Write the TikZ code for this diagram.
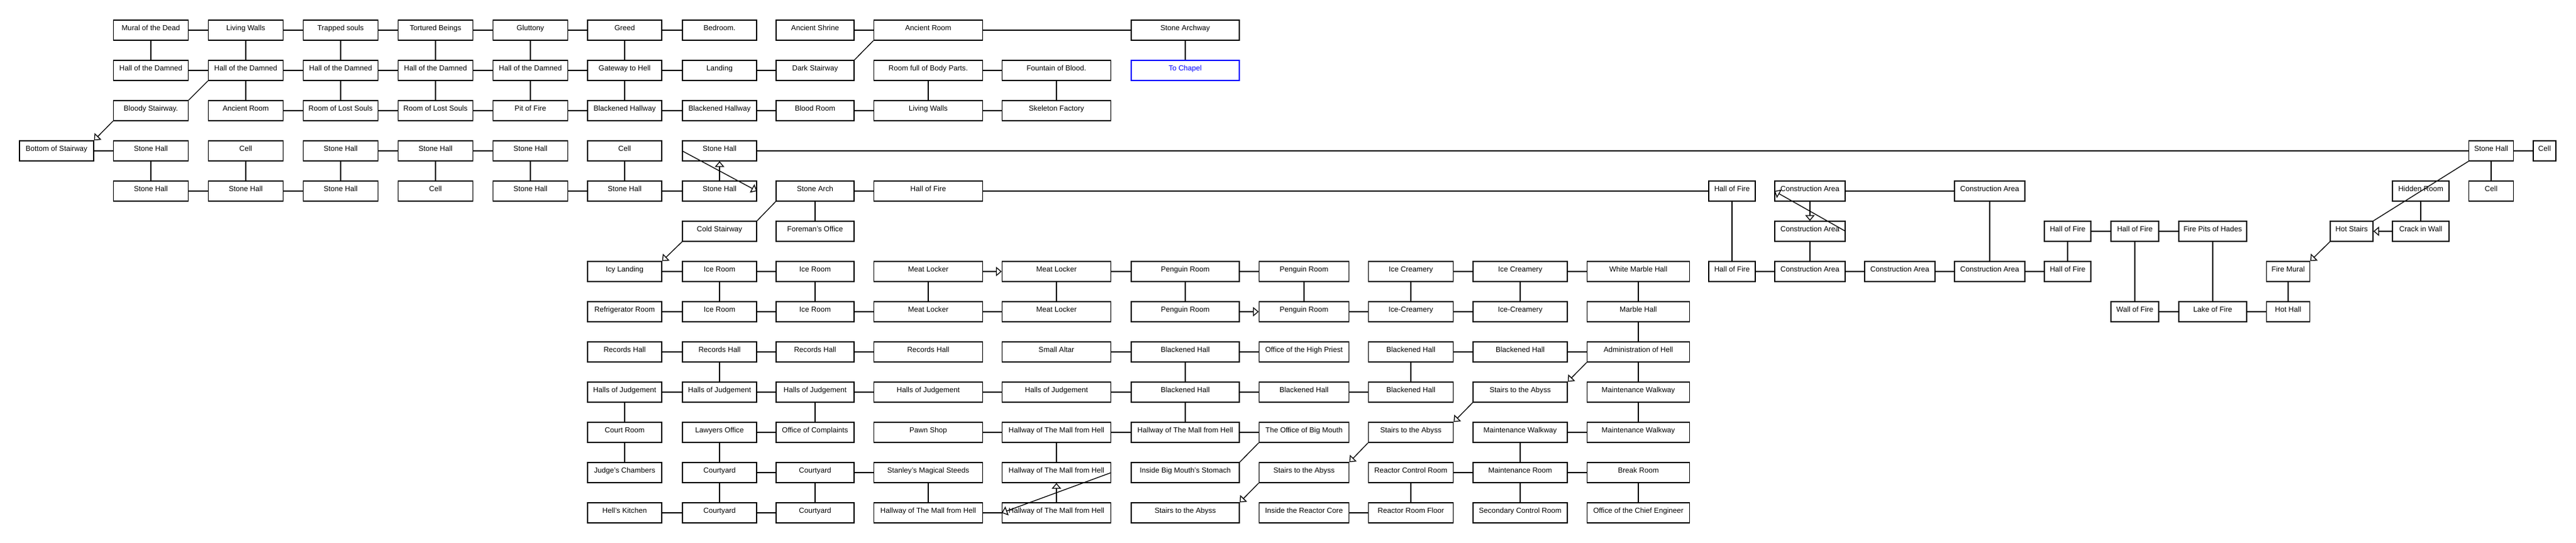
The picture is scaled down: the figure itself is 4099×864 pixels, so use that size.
\documentclass[tikz,border=0pt]{standalone}
\usepackage{fontspec}
\setmainfont{Liberation Sans}
\usepackage{tikz}
\usetikzlibrary{arrows.meta,positioning}
\tikzset{
    room/.style={draw, rectangle, line width=1.3pt, minimum width=#1, minimum height=32pt,
        inner sep=0pt, text height=7pt, text depth=6pt, font=\fontsize{11.7}{14}\selectfont},
    room/.default=119pt,
    exit/.style={room=172pt, draw=blue, text=blue},
    passage/.style={line width=1.3pt},
    oneway/.style={line width=1.3pt, -{Triangle[length=9pt, width=15pt, fill=white]}}
}
\begin{document}
\begin{tikzpicture}[x=1pt, y=-1pt]
            \useasboundingbox (0,0) rectangle (4099,864);
            % row 0
            \node[room] (mural) at (240,48) {Mural of the Dead};
            \node[room] (walls1) at (391,48) {Living Walls};
            \node[room] (trapped) at (542,48) {Trapped souls};
            \node[room] (tortured) at (693,48) {Tortured Beings};
            \node[room] (gluttony) at (844,48) {Gluttony};
            \node[room=118pt] (greed) at (994,48) {Greed};
            \node[room=118pt] (bedroom) at (1145,48) {Bedroom.};
            \node[room=124pt] (shrine) at (1297,48) {Ancient Shrine};
            \node[room=173pt] (ancient2) at (1477,48) {Ancient Room};
            \node[room=172pt] (archway) at (1886,48) {Stone Archway};
            % row 1
            \node[room] (damned1) at (240,112) {Hall of the Damned};
            \node[room] (damned2) at (391,112) {Hall of the Damned};
            \node[room] (damned3) at (542,112) {Hall of the Damned};
            \node[room] (damned4) at (693,112) {Hall of the Damned};
            \node[room] (damned5) at (844,112) {Hall of the Damned};
            \node[room=118pt] (gateway) at (994,112) {Gateway to Hell};
            \node[room=118pt] (landing) at (1145,112) {Landing};
            \node[room=124pt] (darkstair) at (1297,112) {Dark Stairway};
            \node[room=173pt] (bodyparts) at (1477,112) {Room full of Body Parts.};
            \node[room=173pt] (fountain) at (1681,112) {Fountain of Blood.};
            \node[exit] (chapel) at (1886,112) {To Chapel};
            % row 2
            \node[room] (bloody) at (240,176) {Bloody Stairway.};
            \node[room] (ancient1) at (391,176) {Ancient Room};
            \node[room] (lost1) at (542,176) {Room of Lost Souls};
            \node[room] (lost2) at (693,176) {Room of Lost Souls};
            \node[room] (pit) at (844,176) {Pit of Fire};
            \node[room=118pt] (blackway1) at (994,176) {Blackened Hallway};
            \node[room=118pt] (blackway2) at (1145,176) {Blackened Hallway};
            \node[room=124pt] (bloodroom) at (1297,176) {Blood Room};
            \node[room=173pt] (walls2) at (1477,176) {Living Walls};
            \node[room=173pt] (skeleton) at (1681,176) {Skeleton Factory};
            % row 3
            \node[room=118pt] (bottom) at (90,240) {Bottom of Stairway};
            \node[room] (stone1) at (240,240) {Stone Hall};
            \node[room] (cell1) at (391,240) {Cell};
            \node[room] (stone2) at (542,240) {Stone Hall};
            \node[room] (stone3) at (693,240) {Stone Hall};
            \node[room] (stone4) at (844,240) {Stone Hall};
            \node[room=118pt] (cell2) at (994,240) {Cell};
            \node[room=118pt] (stone5) at (1145,240) {Stone Hall};
            \node[room=71pt] (stone6) at (3964,240) {Stone Hall};
            \node[room=36pt] (cell3) at (4049,240) {Cell};
            % row 4
            \node[room] (stone7) at (240,304) {Stone Hall};
            \node[room] (stone8) at (391,304) {Stone Hall};
            \node[room] (stone9) at (542,304) {Stone Hall};
            \node[room] (cell4) at (693,304) {Cell};
            \node[room] (stone10) at (844,304) {Stone Hall};
            \node[room=118pt] (stone11) at (994,304) {Stone Hall};
            \node[room=118pt] (stone12) at (1145,304) {Stone Hall};
            \node[room=124pt] (arch) at (1297,304) {Stone Arch};
            \node[room=173pt] (fire1) at (1477,304) {Hall of Fire};
            \node[room=74pt] (fire2) at (2756,304) {Hall of Fire};
            \node[room=112pt] (build1) at (2880,304) {Construction Area};
            \node[room=112pt] (build2) at (3166,304) {Construction Area};
            \node[room=90pt] (hidden) at (3852,304) {Hidden Room};
            \node[room=71pt] (cell5) at (3964,304) {Cell};
            % row 5
            \node[room=118pt] (coldstair) at (1145,368) {Cold Stairway};
            \node[room=124pt] (foreman) at (1297,368) {Foreman's Office};
            \node[room=112pt] (build3) at (2880,368) {Construction Area};
            \node[room=74pt] (fire3) at (3290,368) {Hall of Fire};
            \node[room=76pt] (fire4) at (3397,368) {Hall of Fire};
            \node[room=108pt] (firepits) at (3521,368) {Fire Pits of Hades};
            \node[room=68pt] (hotstairs) at (3742,368) {Hot Stairs};
            \node[room=90pt] (crack) at (3852,368) {Crack in Wall};
            % row 6
            \node[room=118pt] (icy) at (994,432) {Icy Landing};
            \node[room=118pt] (ice1) at (1145,432) {Ice Room};
            \node[room=124pt] (ice2) at (1297,432) {Ice Room};
            \node[room=173pt] (meat1) at (1477,432) {Meat Locker};
            \node[room=173pt] (meat2) at (1681,432) {Meat Locker};
            \node[room=172pt] (penguin1) at (1886,432) {Penguin Room};
            \node[room=143pt] (penguin2) at (2075,432) {Penguin Room};
            \node[room=135pt] (cream1) at (2245,432) {Ice Creamery};
            \node[room=150pt] (cream2) at (2419,432) {Ice Creamery};
            \node[room=163pt] (whitemarble) at (2607,432) {White Marble Hall};
            \node[room=74pt] (fire5) at (2756,432) {Hall of Fire};
            \node[room=112pt] (build4) at (2880,432) {Construction Area};
            \node[room=112pt] (build5) at (3023,432) {Construction Area};
            \node[room=112pt] (build6) at (3166,432) {Construction Area};
            \node[room=74pt] (fire6) at (3290,432) {Hall of Fire};
            \node[room=69pt] (firemural) at (3641,432) {Fire Mural};
            % row 7
            \node[room=118pt] (fridge) at (994,496) {Refrigerator Room};
            \node[room=118pt] (ice3) at (1145,496) {Ice Room};
            \node[room=124pt] (ice4) at (1297,496) {Ice Room};
            \node[room=173pt] (meat3) at (1477,496) {Meat Locker};
            \node[room=173pt] (meat4) at (1681,496) {Meat Locker};
            \node[room=172pt] (penguin3) at (1886,496) {Penguin Room};
            \node[room=143pt] (penguin4) at (2075,496) {Penguin Room};
            \node[room=135pt] (cream3) at (2245,496) {Ice-Creamery};
            \node[room=150pt] (cream4) at (2419,496) {Ice-Creamery};
            \node[room=163pt] (marble) at (2607,496) {Marble Hall};
            \node[room=76pt] (wallfire) at (3397,496) {Wall of Fire};
            \node[room=108pt] (lake) at (3521,496) {Lake of Fire};
            \node[room=69pt] (hothall) at (3641,496) {Hot Hall};
            % row 8
            \node[room=118pt] (records1) at (994,560) {Records Hall};
            \node[room=118pt] (records2) at (1145,560) {Records Hall};
            \node[room=124pt] (records3) at (1297,560) {Records Hall};
            \node[room=173pt] (records4) at (1477,560) {Records Hall};
            \node[room=173pt] (altar) at (1681,560) {Small Altar};
            \node[room=172pt] (black1) at (1886,560) {Blackened Hall};
            \node[room=143pt] (priest) at (2075,560) {Office of the High Priest};
            \node[room=135pt] (black2) at (2245,560) {Blackened Hall};
            \node[room=150pt] (black3) at (2419,560) {Blackened Hall};
            \node[room=163pt] (admin) at (2607,560) {Administration of Hell};
            % row 9
            \node[room=118pt] (judge1) at (994,624) {Halls of Judgement};
            \node[room=118pt] (judge2) at (1145,624) {Halls of Judgement};
            \node[room=124pt] (judge3) at (1297,624) {Halls of Judgement};
            \node[room=173pt] (judge4) at (1477,624) {Halls of Judgement};
            \node[room=173pt] (judge5) at (1681,624) {Halls of Judgement};
            \node[room=172pt] (black4) at (1886,624) {Blackened Hall};
            \node[room=143pt] (black5) at (2075,624) {Blackened Hall};
            \node[room=135pt] (black6) at (2245,624) {Blackened Hall};
            \node[room=150pt] (abyss1) at (2419,624) {Stairs to the Abyss};
            \node[room=163pt] (walkway1) at (2607,624) {Maintenance Walkway};
            % row 10
            \node[room=118pt] (court) at (994,688) {Court Room};
            \node[room=118pt] (lawyers) at (1145,688) {Lawyers Office};
            \node[room=124pt] (complaints) at (1297,688) {Office of Complaints};
            \node[room=173pt] (pawn) at (1477,688) {Pawn Shop};
            \node[room=173pt] (mall1) at (1681,688) {Hallway of The Mall from Hell};
            \node[room=172pt] (mall2) at (1886,688) {Hallway of The Mall from Hell};
            \node[room=143pt] (bigmouth) at (2075,688) {The Office of Big Mouth};
            \node[room=135pt] (abyss2) at (2245,688) {Stairs to the Abyss};
            \node[room=150pt] (walkway2) at (2419,688) {Maintenance Walkway};
            \node[room=163pt] (walkway3) at (2607,688) {Maintenance Walkway};
            % row 11
            \node[room=118pt] (chambers) at (994,752) {Judge's Chambers};
            \node[room=118pt] (yard1) at (1145,752) {Courtyard};
            \node[room=124pt] (yard2) at (1297,752) {Courtyard};
            \node[room=173pt] (steeds) at (1477,752) {Stanley's Magical Steeds};
            \node[room=173pt] (mall3) at (1681,752) {Hallway of The Mall from Hell};
            \node[room=172pt] (stomach) at (1886,752) {Inside Big Mouth's Stomach};
            \node[room=143pt] (abyss3) at (2075,752) {Stairs to the Abyss};
            \node[room=135pt] (control) at (2245,752) {Reactor Control Room};
            \node[room=150pt] (maintroom) at (2419,752) {Maintenance Room};
            \node[room=163pt] (breakroom) at (2607,752) {Break Room};
            % row 12
            \node[room=118pt] (kitchen) at (994,816) {Hell's Kitchen};
            \node[room=118pt] (yard3) at (1145,816) {Courtyard};
            \node[room=124pt] (yard4) at (1297,816) {Courtyard};
            \node[room=173pt] (mall4) at (1477,816) {Hallway of The Mall from Hell};
            \node[room=173pt] (mall5) at (1681,816) {Hallway of The Mall from Hell};
            \node[room=172pt] (abyss4) at (1886,816) {Stairs to the Abyss};
            \node[room=143pt] (core) at (2075,816) {Inside the Reactor Core};
            \node[room=135pt] (floor) at (2245,816) {Reactor Room Floor};
            \node[room=150pt] (secondary) at (2419,816) {Secondary Control Room};
            \node[room=163pt] (engineer) at (2607,816) {Office of the Chief Engineer};
            % upper halls
            \draw[passage] (mural) -- (walls1);
            \draw[passage] (walls1) -- (trapped);
            \draw[passage] (trapped) -- (tortured);
            \draw[passage] (tortured) -- (gluttony);
            \draw[passage] (gluttony) -- (greed);
            \draw[passage] (greed) -- (bedroom);
            \draw[passage] (shrine) -- (ancient2);
            \draw[passage] (ancient2) -- (archway);
            \draw[passage] (archway) -- (chapel);
            \draw[passage] (ancient2.south west) -- (darkstair.north east);
            \draw[passage] (mural) -- (damned1);
            \draw[passage] (walls1) -- (damned2);
            \draw[passage] (trapped) -- (damned3);
            \draw[passage] (tortured) -- (damned4);
            \draw[passage] (gluttony) -- (damned5);
            \draw[passage] (greed) -- (gateway);
            \draw[passage] (damned1) -- (damned2);
            \draw[passage] (damned2) -- (damned3);
            \draw[passage] (damned3) -- (damned4);
            \draw[passage] (damned4) -- (damned5);
            \draw[passage] (damned5) -- (gateway);
            \draw[passage] (gateway) -- (landing);
            \draw[passage] (landing) -- (darkstair);
            \draw[passage] (bodyparts) -- (fountain);
            \draw[passage] (damned2.south west) -- (bloody.north east);
            \draw[passage] (damned2) -- (ancient1);
            \draw[passage] (damned3) -- (lost1);
            \draw[passage] (damned4) -- (lost2);
            \draw[passage] (damned5) -- (pit);
            \draw[passage] (gateway) -- (blackway1);
            \draw[passage] (bodyparts) -- (walls2);
            \draw[passage] (fountain) -- (skeleton);
            \draw[passage] (ancient1) -- (lost1);
            \draw[passage] (lost1) -- (lost2);
            \draw[passage] (lost2) -- (pit);
            \draw[passage] (pit) -- (blackway1);
            \draw[passage] (blackway1) -- (blackway2);
            \draw[passage] (blackway2) -- (bloodroom);
            \draw[passage] (bloodroom) -- (walls2);
            \draw[passage] (walls2) -- (skeleton);
            \draw[oneway] (bloody.south west) -- (bottom.north east);
            % stone halls
            \draw[passage] (bottom) -- (stone1);
            \draw[passage] (stone2) -- (stone3);
            \draw[passage] (stone3) -- (stone4);
            \draw[passage] (stone5) -- (stone6);
            \draw[passage] (stone6) -- (cell3);
            \draw[passage] (stone6) -- (cell5);
            \draw[passage] (stone1) -- (stone7);
            \draw[passage] (cell1) -- (stone8);
            \draw[passage] (stone2) -- (stone9);
            \draw[passage] (stone3) -- (cell4);
            \draw[passage] (stone4) -- (stone10);
            \draw[passage] (cell2) -- (stone11);
            \draw[oneway] (stone12) -- (stone5);
            \draw[oneway] (stone5.west) -- (stone12.east);
            \draw[passage] (stone7) -- (stone8);
            \draw[passage] (stone8) -- (stone9);
            \draw[passage] (stone10) -- (stone11);
            \draw[passage] (stone11) -- (stone12);
            \draw[passage] (arch) -- (fire1);
            \draw[passage] (fire1) -- (fire2);
            \draw[passage] (arch) -- (foreman);
            \draw[passage] (arch.south west) -- (coldstair.north east);
            \draw[oneway] (coldstair.south west) -- (icy.north east);
            % fire and construction
            \draw[passage] (fire2) -- (fire5);
            \draw[passage] (build1) -- (build2);
            \draw[oneway] (build1) -- (build3);
            \draw[oneway] (build3.east) -- (build1.west);
            \draw[passage] (build3) -- (build4);
            \draw[passage] (build2) -- (build6);
            \draw[passage] (fire5) -- (build4);
            \draw[passage] (build4) -- (build5);
            \draw[passage] (build5) -- (build6);
            \draw[passage] (build6) -- (fire6);
            \draw[passage] (fire3) -- (fire6);
            \draw[passage] (fire3) -- (fire4);
            \draw[passage] (fire4) -- (firepits);
            \draw[passage] (fire4) -- (wallfire);
            \draw[passage] (firepits) -- (lake);
            \draw[passage] (wallfire) -- (lake);
            \draw[passage] (lake) -- (hothall);
            \draw[passage] (firemural) -- (hothall);
            \draw[passage] (hidden) -- (crack);
            \draw[oneway] (crack) -- (hotstairs);
            \draw[oneway] (hotstairs.south west) -- (firemural.north east);
            \draw[passage] (stone6.south west) -- (hotstairs.north east);
            % ice and meat
            \draw[passage] (icy) -- (ice1);
            \draw[passage] (ice1) -- (ice2);
            \draw[oneway] (meat1) -- (meat2);
            \draw[passage] (meat2) -- (penguin1);
            \draw[passage] (penguin1) -- (penguin2);
            \draw[passage] (cream1) -- (cream2);
            \draw[passage] (cream2) -- (whitemarble);
            \draw[passage] (ice1) -- (ice3);
            \draw[passage] (ice2) -- (ice4);
            \draw[passage] (meat1) -- (meat3);
            \draw[passage] (meat2) -- (meat4);
            \draw[passage] (penguin1) -- (penguin3);
            \draw[passage] (penguin2) -- (penguin4);
            \draw[passage] (cream1) -- (cream3);
            \draw[passage] (cream2) -- (cream4);
            \draw[passage] (whitemarble) -- (marble);
            \draw[passage] (fridge) -- (ice3);
            \draw[passage] (ice3) -- (ice4);
            \draw[passage] (ice4) -- (meat3);
            \draw[passage] (meat3) -- (meat4);
            \draw[oneway] (penguin3) -- (penguin4);
            \draw[passage] (penguin4) -- (cream3);
            \draw[passage] (cream3) -- (cream4);
            \draw[passage] (marble) -- (admin);
            % records and judgement
            \draw[passage] (records1) -- (records2);
            \draw[passage] (records2) -- (records3);
            \draw[passage] (records3) -- (records4);
            \draw[passage] (altar) -- (black1);
            \draw[passage] (black1) -- (priest);
            \draw[passage] (black2) -- (black3);
            \draw[passage] (black3) -- (admin);
            \draw[passage] (records2) -- (judge2);
            \draw[passage] (black1) -- (black4);
            \draw[passage] (black2) -- (black6);
            \draw[passage] (admin) -- (walkway1);
            \draw[oneway] (admin.south west) -- (abyss1.north east);
            \draw[passage] (judge1) -- (judge2);
            \draw[passage] (judge2) -- (judge3);
            \draw[passage] (judge3) -- (judge4);
            \draw[passage] (judge4) -- (judge5);
            \draw[passage] (judge5) -- (black4);
            \draw[passage] (black4) -- (black5);
            \draw[passage] (black5) -- (black6);
            \draw[passage] (judge1) -- (court);
            \draw[passage] (judge3) -- (complaints);
            \draw[passage] (black4) -- (mall2);
            \draw[passage] (walkway1) -- (walkway3);
            \draw[oneway] (abyss1.south west) -- (abyss2.north east);
            % mall and reactor
            \draw[passage] (lawyers) -- (complaints);
            \draw[passage] (pawn) -- (mall1);
            \draw[passage] (mall1) -- (mall2);
            \draw[passage] (mall2) -- (bigmouth);
            \draw[passage] (walkway2) -- (walkway3);
            \draw[passage] (court) -- (chambers);
            \draw[passage] (lawyers) -- (yard1);
            \draw[passage] (mall1) -- (mall3);
            \draw[passage] (walkway2) -- (maintroom);
            \draw[passage] (bigmouth.south west) -- (stomach.north east);
            \draw[oneway] (abyss2.south west) -- (abyss3.north east);
            \draw[passage] (yard1) -- (yard2);
            \draw[passage] (yard2) -- (steeds);
            \draw[passage] (control) -- (maintroom);
            \draw[passage] (maintroom) -- (breakroom);
            \draw[oneway] (mall3.east) -- (mall5.west);
            \draw[passage] (yard1) -- (yard3);
            \draw[passage] (yard2) -- (yard4);
            \draw[passage] (steeds) -- (mall4);
            \draw[oneway] (mall5) -- (mall3);
            \draw[passage] (control) -- (floor);
            \draw[passage] (maintroom) -- (secondary);
            \draw[passage] (breakroom) -- (engineer);
            \draw[oneway] (abyss3.south west) -- (abyss4.north east);
            \draw[passage] (kitchen) -- (yard3);
            \draw[passage] (yard3) -- (yard4);
            \draw[passage] (mall4) -- (mall5);
            \draw[passage] (core) -- (floor);
        \end{tikzpicture}
\end{document}
